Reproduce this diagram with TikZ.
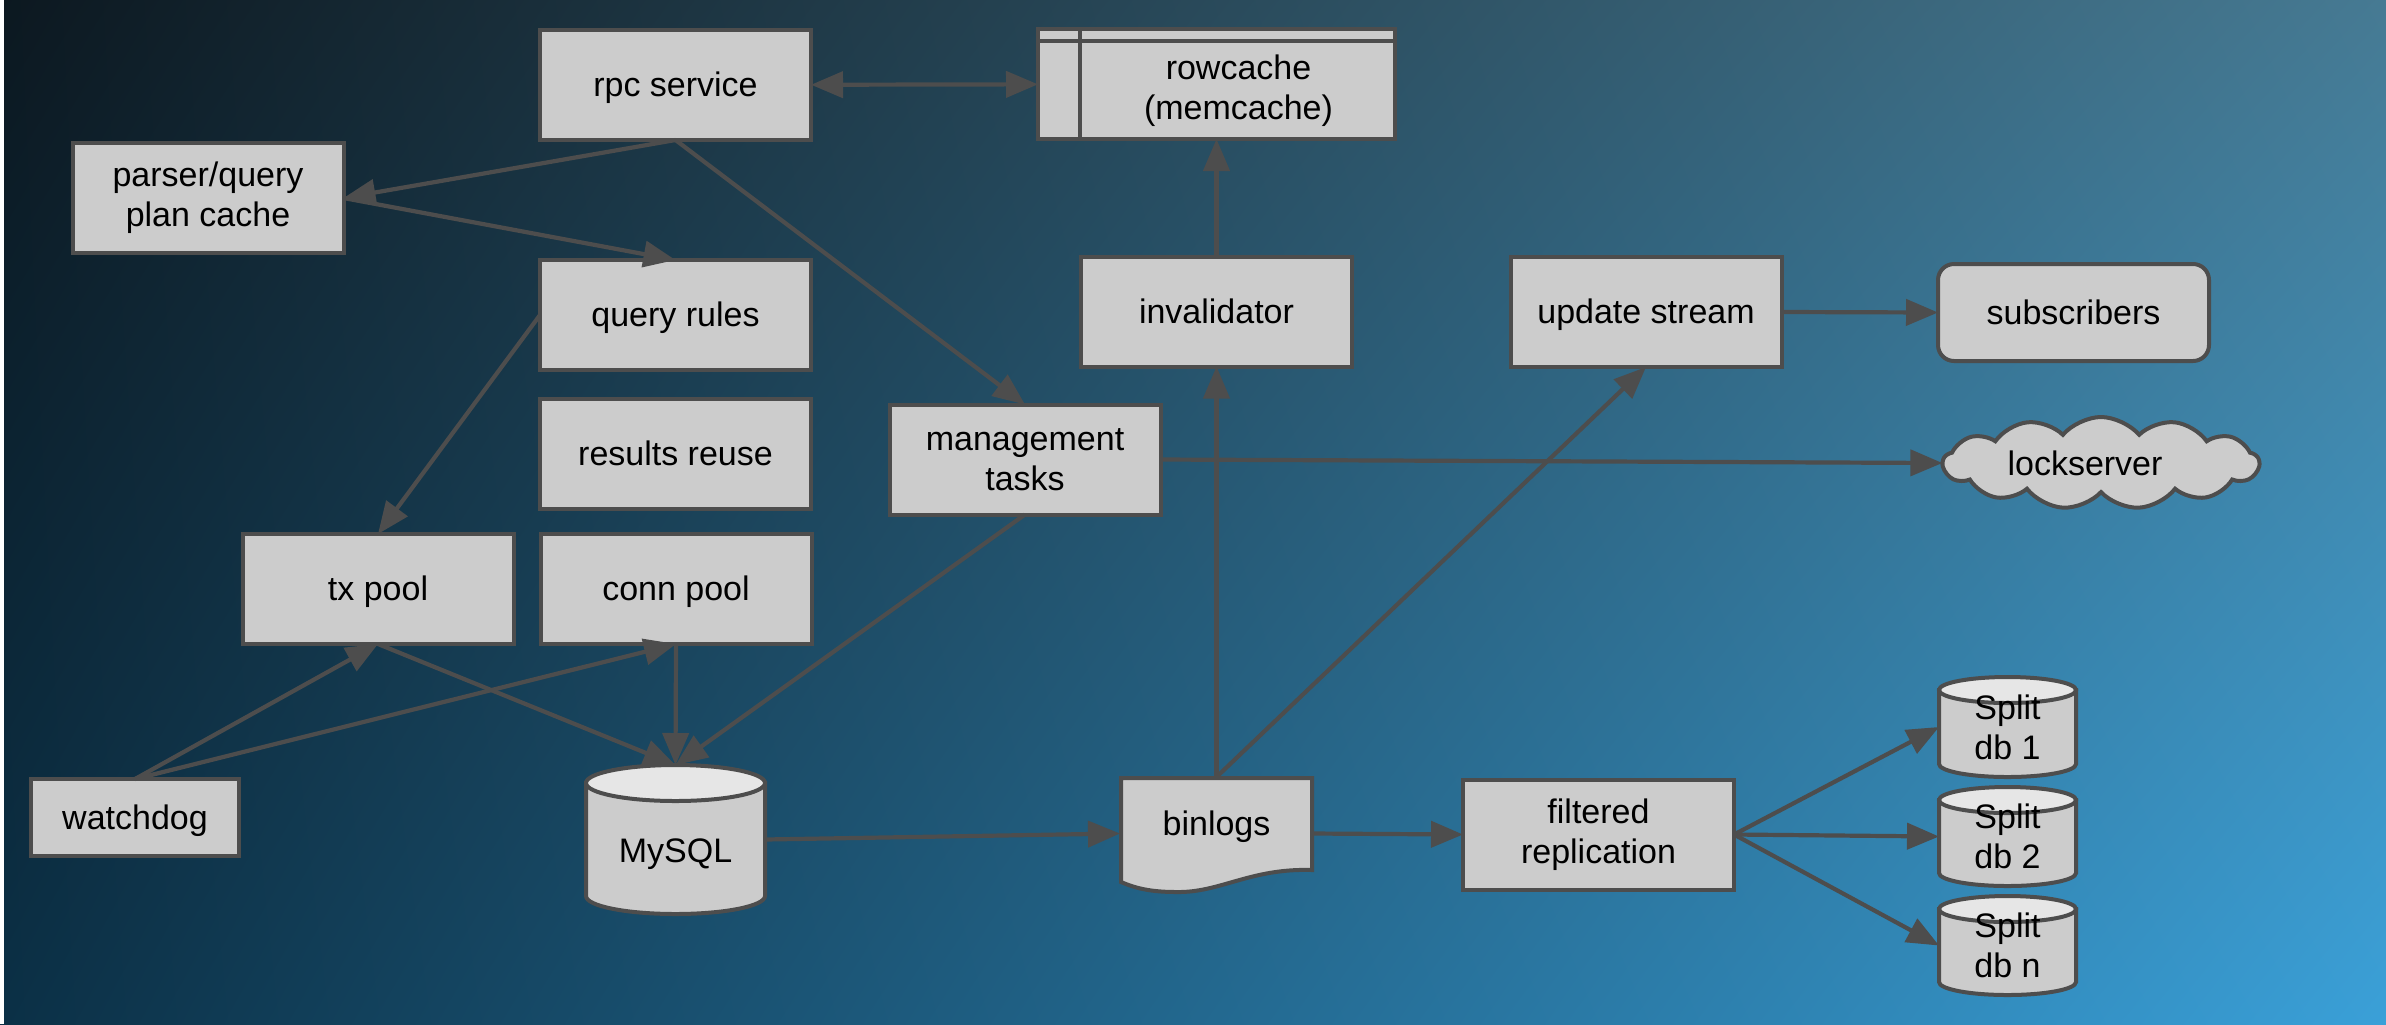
\documentclass[tikz,border=0pt]{standalone}
\usepackage{fontspec}
\setmainfont{Liberation Sans}
\usetikzlibrary{arrows.meta,shapes.symbols,calc,shadings}
\definecolor{boxfill}{HTML}{CCCCCC}
\definecolor{edgec}{HTML}{4D4D4D}
\definecolor{topfill}{HTML}{E6E6E6}
\definecolor{bgTL}{HTML}{0C1820}
\definecolor{bgTR}{HTML}{467A93}
\definecolor{bgBL}{HTML}{0B3046}
\definecolor{bgBR}{HTML}{3AA0D8}
\begin{document}
\begin{tikzpicture}[x=0.5pt,y=0.5pt,
  every node/.style={font=\fontsize{17}{20}\selectfont, text=black, outer sep=0pt, inner sep=0pt},
  box/.style={draw=edgec, fill=boxfill, line width=2pt, minimum width=135.5pt, minimum height=55pt, align=center},
  one/.style={text height=15.4pt, text depth=3.6pt},
  plainnode/.style={minimum width=68.5pt, minimum height=50pt, align=center},
  cylbody/.style={draw=edgec, fill=boxfill, line width=2pt},
  cyltop/.style={draw=edgec, fill=topfill, line width=2pt},
  cloudbox/.style={cloud, cloud puffs=13, cloud puff arc=100, cloud ignores aspect, draw=edgec, fill=boxfill, line width=2pt, minimum width=158pt, minimum height=46pt},
  conn/.style={draw=edgec, line width=2.1pt, -{Triangle[length=16pt,width=13pt]}},
  dbl/.style={draw=edgec, line width=2.1pt, {Triangle[length=16pt,width=13pt]}-{Triangle[length=16pt,width=13pt]}},
  inner/.style={draw=edgec, line width=2pt}]
% background
\useasboundingbox (0,0) rectangle (2386,-1024);
\shade[upper left=bgTL, upper right=bgTR, lower left=bgBL, lower right=bgBR] (0,0) rectangle (2386,-1024);
\fill[white] (0,0) rectangle (3.5,-1024);

% cylinder shapes
\filldraw[cylbody] (586,-783) -- (586,-896) arc[start angle=180, end angle=360, x radius=44.75pt, y radius=9pt] -- (765,-783) -- cycle;
\filldraw[cyltop] (675.5,-783) ellipse [x radius=44.75pt, y radius=9pt];
\filldraw[cylbody] (1939,-690) -- (1939,-764) arc[start angle=180, end angle=360, x radius=34.25pt, y radius=6.5pt] -- (2076,-690) -- cycle;
\filldraw[cyltop] (2007.5,-690) ellipse [x radius=34.25pt, y radius=6.5pt];
\filldraw[cylbody] (1939,-800) -- (1939,-873) arc[start angle=180, end angle=360, x radius=34.25pt, y radius=6.5pt] -- (2076,-800) -- cycle;
\filldraw[cyltop] (2007.5,-800) ellipse [x radius=34.25pt, y radius=6.5pt];
\filldraw[cylbody] (1939,-909) -- (1939,-982) arc[start angle=180, end angle=360, x radius=34.25pt, y radius=6.5pt] -- (2076,-909) -- cycle;
\filldraw[cyltop] (2007.5,-909) ellipse [x radius=34.25pt, y radius=6.5pt];
% document shape (binlogs)
\filldraw[cylbody] (1121,-778) -- (1312,-778) -- (1312,-870) .. controls (1250,-868) and (1220,-893) .. (1176,-892) .. controls (1150,-892) and (1135,-888) .. (1121,-882) -- cycle;

% nodes
\node[box, one] (rpc) at (675.5,-85) {rpc service};
\node[box, minimum width=178.5pt, label={[align=center, xshift=11pt, yshift=-3.5pt]center:rowcache\\(memcache)}] (rowcache) at (1216.5,-84) {};
\draw[inner] ([xshift=21pt]rowcache.north west) -- ([xshift=21pt]rowcache.south west);
\draw[inner] ([yshift=-6pt]rowcache.north west) -- ([yshift=-6pt]rowcache.north east);
\node[box] (parser) at (208,-198) {parser/query\\plan cache};
\node[box, one] (qrules) at (675.5,-315) {query rules};
\node[box, one] (results) at (675.5,-454) {results reuse};
\node[box, one] (txpool) at (378,-589) {tx pool};
\node[box, one] (connpool) at (676,-589) {conn pool};
\node[box] (mgmt) at (1025,-459.5) {management\\tasks};
\node[box, one] (invalidator) at (1216.5,-311.5) {invalidator};
\node[box, one] (update) at (1646,-312) {update stream};
\node[box, one, rounded corners=8pt, minimum height=48.5pt] (subs) at (2073.5,-312.5) {subscribers};
\node[cloudbox] (lock) at (2101,-463) {\makebox[0pt]{lockserver\hspace*{16pt}}};
\node[box, one, minimum width=104pt, minimum height=38.5pt] (watchdog) at (135,-817.5) {watchdog};
\node[plainnode, minimum width=89.5pt, minimum height=74.5pt] (mysql) at (675.5,-839.5) {\raisebox{-11.25pt}[0pt][0pt]{MySQL}};
\node[plainnode, minimum width=96.5pt, minimum height=56.5pt] (binlogs) at (1216.5,-833.5) {\raisebox{-0.75pt}[0pt][0pt]{binlogs}};
\node[box] (filtered) at (1598.5,-834.5) {filtered\\replication};
\node[plainnode] (db1) at (2007.5,-727) {Split\\db 1};
\node[plainnode] (db2) at (2007.5,-836.5) {Split\\db 2};
\node[plainnode] (dbn) at (2007.5,-945.5) {Split\\db n};

% connectors
\draw[dbl] (rpc) -- (rowcache);
\draw[conn] (rpc.south) -- (parser.east);
\draw[conn] (parser.east) -- (qrules.north);
\draw[conn] (rpc.south) -- (mgmt.north);
\draw[conn] (qrules.west) -- (txpool.north);
\draw[conn] (txpool.south) -- (mysql.north);
\draw[conn] (connpool.south) -- (mysql.north);
\draw[conn] (mgmt.south) -- (mysql.north);
\draw[conn] (watchdog.north) -- (txpool.south);
\draw[conn] (watchdog.north) -- (connpool.south);
\draw[conn] (mysql.east) -- (binlogs.west);
\draw[conn] (binlogs.north) -- (invalidator.south);
\draw[conn] (invalidator.north) -- (rowcache.south);
\draw[conn] (binlogs.north) -- (update.south);
\draw[conn] (update.east) -- (subs.west);
\draw[conn] (mgmt.east) -- (lock.west);
\draw[conn] (binlogs.east) -- (filtered.west);
\draw[conn] (filtered.east) -- (db1.west);
\draw[conn] (filtered.east) -- (db2.west);
\draw[conn] (filtered.east) -- (dbn.west);
\end{tikzpicture}
\end{document}
